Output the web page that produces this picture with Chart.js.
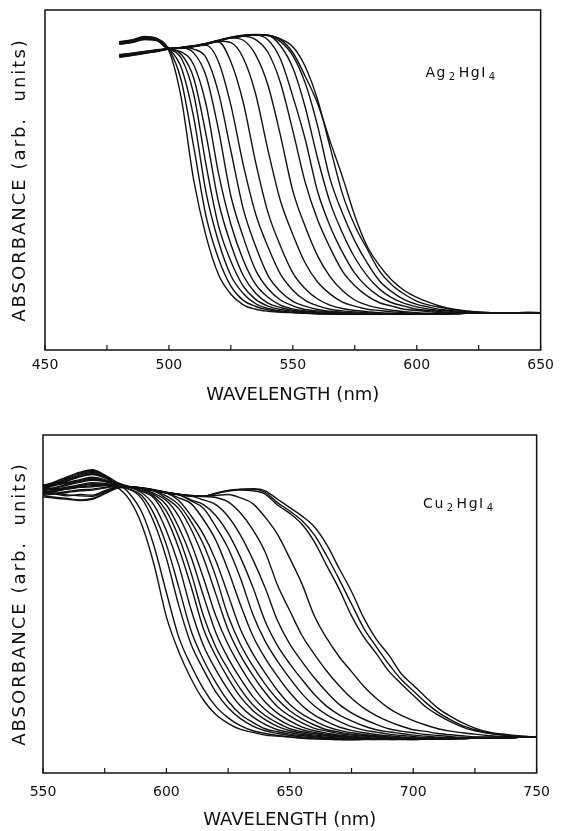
<!DOCTYPE html>
<html>
<head>
<meta charset="utf-8">
<script src="https://cdn.jsdelivr.net/npm/chart.js@4.4.0/dist/chart.umd.min.js"></script>
<style>
  body { margin: 0; background: #fff; }
  .panel { position: absolute; left: 0; width: 561px; }
</style>
</head>
<body>
<div class="panel" style="top:0;height:420px"><canvas id="chartAg"></canvas></div>
<div class="panel" style="top:420px;height:411px"><canvas id="chartCu"></canvas></div>
<script>
// Ag2HgI4 spectra, wavelength grid (nm) and one absorbance array per curve
const agWave = [480,485,490,495,500,505,510,515,520,525,530,535,540,545,550,555,560,565,570,575,580,585,590,595,600,605,610,615,620,625,630,635,640,645,650];
const ag1  = [90.6,91.0,91.9,91.5,88.0, 74,50,33.5,22.2,16.4, 13.3,12,11.4,11.1,11, 10.8,10.6,10.6,10.5,10.5, 10.6,10.6,10.5,10.6,10.6, 10.7,10.7,10.8,10.8,10.9, 11,11,11,11,11];
const ag2  = [90.3,90.8,91.7,91.3,88.4, 79.2,59.8,39.3,26.9,18.8, 14.6,12.8,11.8,11.3,11.0, 10.9,10.7,10.6,10.6,10.5, 10.5,10.6,10.6,10.6,10.5, 10.6,10.7,10.7,10.8,10.9, 10.9,11,11,11,11];
const ag3  = [90.1,90.6,91.5,91.2,88.6, 83,68.4,46.3,31.9,21.9, 16.6,13.6,12.2,11.5,11.1, 10.9,10.8,10.7,10.6,10.6, 10.5,10.5,10.6,10.6,10.6, 10.6,10.7,10.8,10.8,10.9, 11,11,11,11.1,11];
const ag4  = [90.5,91.1,92.0,91.6,88.7, 85.8,75.3,54.4,36.6,26.1, 18.8,14.9,12.9,11.9,11.4, 11.1,10.9,10.8,10.7,10.6, 10.6,10.6,10.5,10.5,10.6, 10.6,10.7,10.7,10.8,10.9, 11,11,11,11,11];
const ag5  = [89.9,90.5,91.4,91.0,88.9, 87,80,63.3,43.6,31.1, 21.9,16.7,13.8,12.5,11.7, 11.3,11.0,10.8,10.7,10.6, 10.6,10.5,10.5,10.6,10.6, 10.6,10.7,10.8,10.8,10.9, 10.9,11,11,11,11];
const ag6  = [90.7,91.2,92.2,91.7,88.6, 87.7,83.9,72.2,52,37, 26.5,19.3,15.5,13.2,12.1, 11.5,11.2,11.0,10.8,10.7, 10.6,10.6,10.6,10.5,10.5, 10.6,10.6,10.7,10.8,10.9, 11,11,11,11,11];
const ag7  = [90.2,90.7,91.6,91.3,88.7, 88.9,87.4,80.6,64.8,45.3, 33.2,23.5,18,14.7,13, 11.9,11.5,11.2,11.0,10.8, 10.7,10.6,10.6,10.6,10.5, 10.6,10.6,10.7,10.8,10.8, 10.9,11,11,11,11];
const ag8  = [90.4,90.9,91.9,91.5,88.6, 89,88.5,86,75.7,58.6, 41.5,30.5,21.9,17.2,14.3, 12.9,11.9,11.4,11.1,10.9, 10.7,10.6,10.6,10.6,10.6, 10.6,10.7,10.7,10.8,10.9, 11,11,11,11,11];
const ag9  = [90.0,90.4,91.3,91.1,88.5, 89,89.5,89.6,84.8,72, 54.5,40,30.3,22.3,17.6, 14.6,13,12,11.5,11.2, 11.0,10.8,10.7,10.6,10.6, 10.6,10.7,10.7,10.8,10.9, 10.9,11,11,11,11];
const ag10 = [86.4,86.9,87.4,88.0,88.6, 89,89.5,90.2,90.6,84.8, 72.8,55.2,40.4,30.6,22.7, 18,15,13.2,12.2,11.6, 11.3,11.0,10.8,10.7,10.6, 10.6,10.6,10.7,10.8,10.8, 10.9,11,11,11,11];
const ag11 = [86.7,87.1,87.6,88.1,88.7, 88.9,89.4,90.2,90.9,90.4, 85.9,75.3,58.7,43.9,34, 25.6,20,16.5,14.1,12.9, 12,11.6,11.2,11.0,10.8, 10.7,10.7,10.7,10.8,10.9, 11,11,11,11,11];
const ag12 = [86.2,86.7,87.3,87.9,88.5, 88.9,89.4,90.1,91,91.8, 91.1,86.8,77.8,63.1,46.8, 36.3,27.7,21.6,17.5,14.7, 13.2,12.3,11.7,11.3,11.0, 10.8,10.7,10.8,10.8,10.9, 11,11,11,11,11];
const ag13 = [86.8,87.2,87.7,88.2,88.6, 88.9,89.4,90.1,91,91.8, 92.3,91.3,87.5,78.6,64.5, 49.3,38.3,30.1,23.2,18.9, 15.9,13.9,12.9,12,11.6, 11.3,11.0,10.9,10.9,10.9, 11,11,11,11,11];
const ag14 = [86.3,86.8,87.3,87.8,88.5, 88.8,89.3,90.0,91.0,91.9, 92.4,92.6,91.2,85.6,74.6, 62,46.6,36.5,28.8,22.6, 18.5,15.7,13.9,12.9,12, 11.6,11.3,11.0,10.9,10.9, 11,11,11,11,11];
const ag15 = [86.9,87.3,87.8,88.3,88.7, 88.9,89.3,90.0,90.9,91.8, 92.3,92.6,92.5,89.5,83, 71.4,56.4,43.5,34.5,27.2, 21.8,17.9,15.3,13.7,12.7, 12,11.6,11.3,11.1,11, 11,11,11,11,11];
const ag16 = [86.5,87.0,87.5,88.0,88.6, 88.8,89.2,89.9,90.9,91.8, 92.4,92.7,92.5,90.7,86.6, 78.5,65.9,50.4,40.3,32.1, 25.6,20.3,17.1,14.8,13.4, 12.6,11.9,11.5,11.2,11.0, 11,11,11,11,11];
const ag17 = [86.1,86.6,87.2,87.8,88.5, 88.8,89.3,90.0,91.0,91.9, 92.5,92.7,92.6,91.5,89.2, 83.4,73.6,59.8,46,36.6, 29.7,23.2,19.1,16.4,14.4, 13.2,12.5,11.8,11.4,11.1, 11,11,11,11,11];
const ag18 = [86.7,87.1,87.6,88.1,88.6, 88.9,89.4,90.1,91.1,92, 92.6,92.8,92.6,91.3,87.5, 80.5,72.5,61.5,51,39.5, 30.5,24.8,20.5,17.5,15.5, 14,12.8,12,11.5,11.2, 11.0,11,11,11,11];

// Cu2HgI4 spectra
const cuWave = [550,555,560,565,570,575,580,585,590,595,600,605,610,615,620,625,630,635,640,645,650,655,660,665,670,675,680,685,690,695,700,705,710,715,720,725,730,735,740,745,750];
const cu1  = [82.7,83.5,84.3,85.0,85.6, 85.5,84.5,80.9,73.5,61.6, 46.2,35.9,27.9,21.6,17.3, 14.7,12.9,12.0,11.2,10.9, 10.6,10.3,10.1,10.0,9.9, 9.9,10.0,10.0,10.1,10.1, 10.2,10.2,10.3,10.3,10.4, 10.4,10.5,10.5,10.6,10.6, 10.6];
const cu2  = [84.8,86.0,87.5,88.8,89.5, 88.0,85.8,82.7,77.2,67.1, 53.4,40.2,31.8,24.9,19.7, 16.3,14.0,12.5,11.7,11.1, 10.7,10.4,10.2,10.0,9.9, 9.8,9.9,10.0,10.1,10.2, 10.2,10.3,10.3,10.4,10.4, 10.5,10.5,10.5,10.6,10.6, 10.6];
const cu3  = [83.0,82.5,82.0,82.4,82.2, 83.5,84.6,83.9,81.2,74.1, 63.5,49.6,38.1,30.6,24.0, 19.3,16.1,13.9,12.5,11.7, 11.1,10.7,10.4,10.2,10.1, 10.0,10.0,10.1,10.1,10.2, 10.2,10.3,10.4,10.4,10.5, 10.5,10.5,10.6,10.6,10.6, 10.6];
const cu4  = [85.3,85.5,86.0,86.8,87.5, 86.8,85.4,84.0,82.1,76.6, 67.5,55.0,42.1,33.5,26.8, 21.3,17.4,15.0,13.1,12.2, 11.5,11.0,10.7,10.4,10.2, 10.1,10.0,10.0,10.1,10.1, 10.2,10.3,10.3,10.4,10.4, 10.5,10.5,10.6,10.6,10.6, 10.6];
const cu5  = [82.2,82.5,83.0,83.5,83.7, 84.3,84.8,84.5,82.9,79.2, 71.7,61.5,48.3,37.7,30.6, 24.6,19.8,16.6,14.4,12.8, 12.0,11.4,10.9,10.6,10.3, 10.1,10.0,9.9,9.9,10.0, 10.1,10.2,10.2,10.3,10.3, 10.4,10.5,10.5,10.6,10.6, 10.6];
const cu6  = [84.2,85.3,86.6,87.8,88.6, 87.5,85.5,84.6,83.3,81.3, 75.4,66.5,55.2,42.7,34.6, 28.1,22.5,18.5,15.8,13.8, 12.5,11.8,11.2,10.9,10.6, 10.3,10.1,10.0,10.0,10.0, 10.1,10.1,10.2,10.3,10.3, 10.4,10.4,10.5,10.5,10.6, 10.6];
const cu7  = [82.0,81.6,81.2,80.8,81.2, 82.8,84.4,84.6,83.7,81.8, 77.5,69.8,59.2,46.5,37.3, 30.7,24.9,20.2,17.0,14.8, 13.1,12.2,11.6,11.1,10.8, 10.5,10.3,10.1,10.0,10.0, 10.1,10.1,10.2,10.2,10.3, 10.4,10.4,10.5,10.5,10.6, 10.6];
const cu8  = [83.5,84.2,85.2,86.0,86.6, 86.2,85.2,84.5,84.0,82.3, 79.3,72.7,63.9,52.4,41.6, 34.0,27.9,22.6,18.8,16.1, 14.1,12.8,12.0,11.4,11.0, 10.7,10.4,10.2,10.0,9.9, 9.9,10.0,10.1,10.2,10.3, 10.3,10.4,10.5,10.5,10.6, 10.6];
const cu9  = [84.0,83.8,84.0,84.5,84.7, 85.0,84.9,84.6,84.1,82.7, 80.6,75.9,68.0,57.7,46.5, 38.0,31.4,25.7,21.0,17.7, 15.4,13.6,12.5,11.8,11.2, 10.9,10.6,10.3,10.1,10.0, 9.9,10.0,10.1,10.2,10.2, 10.3,10.4,10.5,10.5,10.6, 10.6];
const cu10 = [84.5,85.7,87.2,88.5,89.2, 87.8,85.6,84.5,84.0,83.4, 81.2,78.2,72.1,63.6,53.0, 42.4,34.8,28.9,23.8,19.6, 16.9,14.8,13.2,12.4,11.7, 11.2,10.9,10.6,10.3,10.1, 10.0,10.0,10.1,10.2,10.2, 10.3,10.4,10.4,10.5,10.6, 10.6];
const cu11 = [83.3,82.8,82.3,82.0,81.9, 83.2,84.5,84.7,84.3,83.6, 81.9,79.4,74.3,67.6,58.1, 46.5,38.0,31.7,26.3,21.8, 18.4,16.0,14.2,12.8,12.1, 11.5,11.1,10.8,10.5,10.3, 10.1,10.0,10.0,10.1,10.2, 10.3,10.3,10.4,10.5,10.6, 10.6];
const cu12 = [85.0,85.2,85.8,86.5,87.2, 86.5,85.3,84.6,84.2,83.6, 82.9,80.6,76.1,70.6,62.9, 52.7,42.5,35.3,29.6,24.4, 20.3,17.4,15.4,13.7,12.6, 11.9,11.4,11.0,10.7,10.4, 10.2,10.1,10.0,10.1,10.2, 10.3,10.3,10.4,10.5,10.6, 10.6];
const cu13 = [83.0,83.8,84.6,85.3,85.9, 85.7,85.1,84.6,84.2,83.6, 82.9,81.4,79.7,75.0,68.9, 60.0,49.8,40.6,34.0,28.6, 23.8,19.9,17.1,15.2,13.6, 12.6,11.9,11.4,11.0,10.7, 10.4,10.2,10.1,10.1,10.2, 10.3,10.4,10.4,10.5,10.6, 10.6];
const cu14 = [82.5,82.8,83.3,83.8,84.0, 84.5,84.9,84.6,84.2,83.6, 82.9,82.4,80.5,78.3,72.9, 66.5,57.6,47.0,39.0,33.1, 28.0,23.4,19.8,17.2,15.3, 13.7,12.7,12.1,11.5,11.1, 10.8,10.5,10.3,10.2,10.2, 10.3,10.4,10.5,10.5,10.6, 10.6];
const cu15 = [84.5,85.6,86.9,88.1,88.9, 87.7,85.6,84.7,84.3,83.7, 83.0,82.4,80.8,79.4,76.2, 71.0,63.8,55.0,44.9,37.7, 32.3,27.6,23.2,19.7,17.2, 15.4,13.9,12.8,12.2,11.7, 11.2,10.9,10.6,10.4,10.3, 10.3,10.4,10.5,10.5,10.6, 10.6];
const cu16 = [81.7,81.3,81.0,80.6,81.0, 82.6,84.2,84.5,84.1,83.5, 82.8,82.3,81.9,80.8,79.4, 75.9,70.4,63.2,54.8,45.1, 38.1,32.9,28.1,23.9,20.3, 17.8,15.9,14.4,13.1,12.4, 11.9,11.4,11.1,10.8,10.5, 10.4,10.4,10.5,10.5,10.6, 10.6];
const cu17 = [83.8,84.5,85.5,86.3,86.9, 86.4,85.3,84.6,84.2,83.6, 82.9,82.4,82.0,81.8,81.5, 80.2,76.9,72.0,65.4,55.6, 48.0,40.6,35.1,30.1,25.8, 22.1,19.2,17.0,15.3,13.9, 12.8,12.3,11.7,11.3,11.0, 10.7,10.5,10.5,10.5,10.6, 10.6];
const cu18 = [84.3,84.1,84.3,84.7,85.0, 85.2,85.0,84.6,84.2,83.6, 82.9,82.4,82.0,81.9,82.1, 82.4,81.4,79.7,75.7,70.6, 63.5,55.8,46.4,39.8,34.4, 30.0,25.6,22.1,19.2,17.1, 15.5,14.2,13.1,12.4,11.9, 11.5,11.1,10.8,10.6,10.6, 10.6];
const cu19 = [84.0,85.1,86.4,87.6,88.3, 87.3,85.5,84.7,84.3,83.7, 83.0,82.5,82.1,81.9,82.7, 83.4,83.7,83.5,82.5,79.3, 76.8,73.5,68.3,61.3,54.4, 46.5,40.2,35.4,30.2,26.5, 23.0,19.6,17.2,15.2,13.6, 12.5,11.8,11.3,11.0,10.7, 10.6];
const cu20 = [85.0,86.2,87.7,89.0,89.7, 88.2,86.0,84.8,84.4,83.8, 83.1,82.5,82.1,81.9,82.7, 83.5,83.9,84.0,83.0,80.0, 77.5,74.6,70.4,64.2,57.3, 50.0,42.8,37.4,32.3,27.8, 24.3,20.9,18.0,15.8,14.0, 12.8,11.9,11.4,11.0,10.8, 10.6];
const cu21 = [82.5,83.3,84.1,84.8,85.4, 85.4,85.0,84.6,84.2,83.6, 82.9,82.4,82.0,81.9,82.8, 83.6,84.0,84.1,83.5,81.0, 78.5,76.0,72.8,67.5,60.5, 53.7,45.8,39.6,35.0,29.5, 26.0,22.5,19.2,16.8,14.8, 13.3,12.2,11.6,11.2,10.9, 10.6];

const agSeries = [ag1,ag2,ag3,ag4,ag5,ag6,ag7,ag8,ag9,ag10,ag11,ag12,ag13,ag14,ag15,ag16,ag17,ag18];
const cuSeries = [cu1,cu2,cu3,cu4,cu5,cu6,cu7,cu8,cu9,cu10,cu11,cu12,cu13,cu14,cu15,cu16,cu17,cu18,cu19,cu20,cu21];

const INK = '#111';
const FONT = '"DejaVu Sans", sans-serif';

// box round the plot + short inward ticks on the wavelength axis
const frame = {
  id: 'frame',
  afterDraw(chart) {
    const { ctx, chartArea: a, scales: { x } } = chart;
    ctx.save();
    ctx.strokeStyle = INK;
    ctx.lineWidth = 1.5;
    ctx.strokeRect(a.left, a.top, a.right - a.left, a.bottom - a.top);
    ctx.lineWidth = 1.2;
    x.ticks.forEach(t => {
      const px = x.getPixelForValue(t.value);
      ctx.beginPath();
      ctx.moveTo(px, a.bottom);
      ctx.lineTo(px, a.bottom - 5);
      ctx.stroke();
    });
    ctx.restore();
  }
};

// rotated y title, drawn by hand so it can be letter-spaced like the plotter font
const yTitle = {
  id: 'yTitle',
  afterDraw(chart) {
    const { ctx, chartArea: a } = chart;
    ctx.save();
    ctx.translate(20, (a.top + a.bottom) / 2);
    ctx.rotate(-Math.PI / 2);
    ctx.font = '18px ' + FONT;
    ctx.letterSpacing = '2px';
    ctx.fillStyle = INK;
    ctx.textAlign = 'center';
    ctx.textBaseline = 'middle';
    ctx.fillText('ABSORBANCE (arb.  units)', 0, 0);
    ctx.restore();
  }
};

// compound name with subscripts, e.g. Ag2HgI4
const formula = {
  id: 'formula',
  afterDatasetsDraw(chart, args, opts) {
    const { ctx, scales: { x, y } } = chart;
    let px = x.getPixelForValue(opts.at[0]);
    const py = y.getPixelForValue(opts.at[1]);
    ctx.save();
    ctx.fillStyle = INK;
    ctx.textBaseline = 'alphabetic';
    ctx.letterSpacing = '1.5px';
    opts.parts.forEach(([txt, sub]) => {
      ctx.font = (sub ? '10px ' : '14px ') + FONT;
      ctx.fillText(txt, px, sub ? py + 3 : py);
      px += ctx.measureText(txt).width + 2;
    });
    ctx.restore();
  }
};

function makeChart(id, wave, series, cfg) {
  const datasets = series.map(ys => ({
    data: ys.map((v, i) => ({ x: wave[i], y: v })),
    borderColor: INK,
    borderWidth: 1.4,
    pointRadius: 0,
    fill: false,
    cubicInterpolationMode: 'monotone'
  }));
  return new Chart(document.getElementById(id), {
    type: 'line',
    data: { datasets },
    plugins: [frame, yTitle, formula],
    options: {
      responsive: true,
      maintainAspectRatio: false,
      animation: false,
      events: [],
      layout: { padding: { top: cfg.padTop, right: cfg.padRight, left: 0, bottom: 0 } },
      plugins: {
        legend: { display: false },
        tooltip: { enabled: false },
        formula: { at: cfg.labelAt, parts: cfg.parts }
      },
      scales: {
        x: {
          type: 'linear',
          min: cfg.xMin,
          max: cfg.xMax,
          afterFit: s => { s.height = cfg.xHeight; },
          grid: { display: false, drawTicks: false, tickLength: 0 },
          border: { display: false },
          ticks: {
            stepSize: 25,
            autoSkip: false,
            maxRotation: 0,
            padding: cfg.tickPad,
            color: INK,
            font: { family: FONT, size: 14 },
            callback: v => (v % 50 === 0 ? String(v) : '')
          },
          title: {
            display: true,
            text: 'WAVELENGTH (nm)',
            color: INK,
            font: { family: FONT, size: 18 },
            padding: { top: 0, bottom: cfg.titlePad }
          }
        },
        y: {
          min: 0,
          max: 100,
          afterFit: s => { s.width = cfg.left; },
          grid: { display: false, drawTicks: false },
          border: { display: false },
          ticks: { display: false },
          title: { display: false }
        }
      }
    }
  });
}

makeChart('chartAg', agWave, agSeries, {
  xMin: 450, xMax: 650, left: 45, padTop: 10, padRight: 16,
  xHeight: 70, tickPad: 7, titlePad: 14,
  labelAt: [603.5, 80.3],
  parts: [['Ag', 0], ['2', 1], ['HgI', 0], ['4', 1]]
});

makeChart('chartCu', cuWave, cuSeries, {
  xMin: 550, xMax: 750, left: 43, padTop: 15, padRight: 18,
  xHeight: 58, tickPad: 11, titlePad: 0,
  labelAt: [704, 78.5],
  parts: [['Cu', 0], ['2', 1], ['HgI', 0], ['4', 1]]
});
</script>
</body>
</html>
